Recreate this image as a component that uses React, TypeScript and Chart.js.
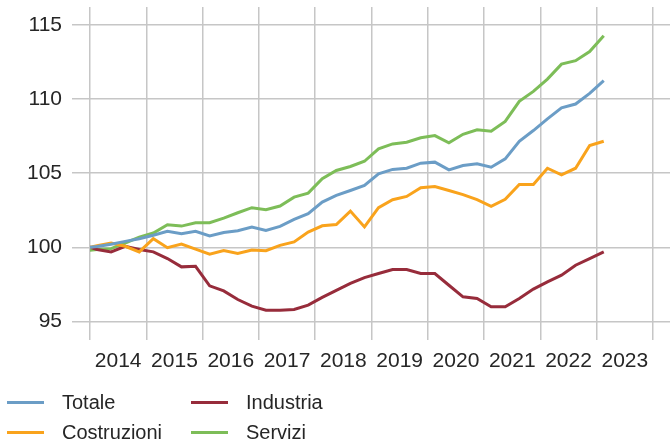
import React, { useEffect, useRef } from "react";
import { Chart, registerables } from "chart.js";

Chart.register(...registerables);

// Quarterly periods (index 2014 = 100)
const QUARTERS = [
  "2013Q4",
  "2014Q1", "2014Q2", "2014Q3", "2014Q4",
  "2015Q1", "2015Q2", "2015Q3", "2015Q4",
  "2016Q1", "2016Q2", "2016Q3", "2016Q4",
  "2017Q1", "2017Q2", "2017Q3", "2017Q4",
  "2018Q1", "2018Q2", "2018Q3", "2018Q4",
  "2019Q1", "2019Q2", "2019Q3", "2019Q4",
  "2020Q1", "2020Q2", "2020Q3", "2020Q4",
  "2021Q1", "2021Q2", "2021Q3", "2021Q4",
  "2022Q1", "2022Q2", "2022Q3", "2022Q4",
  "2023Q1",
];

const TOTALE = [
  99.95, 100.05, 100.2, 100.4, 100.58, 100.81, 101.08, 100.92, 101.08,
  100.76, 101.0, 101.12, 101.37, 101.14, 101.41, 101.88, 102.27, 103.05,
  103.5, 103.83, 104.17, 104.96, 105.25, 105.33, 105.67, 105.74, 105.22,
  105.51, 105.63, 105.4, 105.96, 107.15, 107.87, 108.66, 109.4, 109.66,
  110.38, 111.23,
];

const COSTRUZIONI = [
  99.9, 100.1, 100.29, 100.07, 99.69, 100.58, 99.97, 100.22, 99.88, 99.53,
  99.78, 99.58, 99.82, 99.77, 100.13, 100.36, 101.03, 101.45, 101.53, 102.44,
  101.37, 102.67, 103.21, 103.43, 104.01, 104.1, 103.83, 103.55, 103.21,
  102.76, 103.23, 104.24, 104.24, 105.33, 104.89, 105.33, 106.86, 107.15,
];

const INDUSTRIA = [
  100.15, 99.85, 99.69, 100.07, 99.85, 99.69, 99.24, 98.68, 98.72, 97.4,
  97.06, 96.48, 96.03, 95.76, 95.76, 95.81, 96.1, 96.62, 97.1, 97.56, 97.96,
  98.23, 98.5, 98.5, 98.23, 98.23, 97.44, 96.66, 96.55, 95.99, 95.99, 96.55,
  97.18, 97.67, 98.12, 98.79, 99.24, 99.69,
];

const SERVIZI = [
  99.75, 99.85, 99.91, 100.29, 100.69, 100.96, 101.52, 101.43, 101.66,
  101.66, 101.97, 102.33, 102.67, 102.53, 102.78, 103.38, 103.65, 104.62,
  105.18, 105.45, 105.8, 106.64, 106.97, 107.08, 107.38, 107.53, 107.04,
  107.62, 107.92, 107.82, 108.49, 109.84, 110.51, 111.34, 112.35, 112.58,
  113.2, 114.26,
];

const YEAR_TICKS = [2014, 2015, 2016, 2017, 2018, 2019, 2020, 2021, 2022, 2023, 2024];
const YEAR_LABELS = [2014, 2015, 2016, 2017, 2018, 2019, 2020, 2021, 2022, 2023];
const Y_TICKS = [95, 100, 105, 110, 115];

const SERIES = [
  { label: "Totale", data: TOTALE, color: "#6b9dc6" },
  { label: "Costruzioni", data: COSTRUZIONI, color: "#f9a31c" },
  { label: "Industria", data: INDUSTRIA, color: "#972c3b" },
  { label: "Servizi", data: SERVIZI, color: "#7dbd58" },
];

// mid-quarter position on a year axis
function quarterToX(q: string): number {
  const year = parseInt(q.slice(0, 4), 10);
  const n = parseInt(q.slice(5), 10);
  return year + (n - 0.5) / 4;
}

const GRID = "#c6c6c6";
const TEXT = "#262626";
const NARROW = "'Liberation Sans Narrow', 'Liberation Sans', sans-serif";
const X_MAX = 2014 + 580 / 56.3;

export default function App() {
  const ref = useRef<HTMLCanvasElement | null>(null);

  useEffect(() => {
    if (!ref.current) return;
    const chart = new Chart(ref.current, {
      type: "line",
      data: {
        datasets: SERIES.map((s) => ({
          label: s.label,
          data: QUARTERS.map((q, i) => ({ x: quarterToX(q), y: s.data[i] })),
          borderColor: s.color,
          backgroundColor: s.color,
          borderWidth: 3,
          pointRadius: 0,
          tension: 0,
          xAxisID: "x",
          yAxisID: "y",
        })),
      },
      options: {
        animation: false,
        responsive: false,
        maintainAspectRatio: false,
        layout: { padding: { top: 7, left: 0, right: 0, bottom: 0 } },
        plugins: { legend: { display: false }, tooltip: { enabled: false } },
        scales: {
          x: {
            type: "linear",
            position: "bottom",
            min: 2014,
            max: X_MAX,
            afterBuildTicks: (s: any) => {
              s.ticks = YEAR_TICKS.map((v) => ({ value: v }));
            },
            afterFit: (s: any) => {
              s.height = 0;
              s.paddingLeft = 0;
              s.paddingRight = 0;
            },
            ticks: { display: false },
            grid: { color: GRID, lineWidth: 1.5, drawTicks: false },
            border: { display: false },
          },
          x2: {
            type: "linear",
            position: "bottom",
            min: 2014,
            max: X_MAX,
            afterBuildTicks: (s: any) => {
              s.ticks = YEAR_LABELS.map((v) => ({ value: v + 0.5 }));
            },
            afterFit: (s: any) => {
              s.height = 101;
              s.paddingLeft = 0;
              s.paddingRight = 0;
            },
            ticks: {
              autoSkip: false,
              maxRotation: 0,
              padding: 1,
              color: TEXT,
              font: { family: NARROW, size: 21 },
              callback: (v: any) => String(Math.floor(Number(v))),
            },
            grid: { display: false },
            border: { display: false },
          },
          y: {
            type: "linear",
            min: 93.75,
            max: 116.2,
            afterBuildTicks: (s: any) => {
              s.ticks = Y_TICKS.map((v) => ({ value: v }));
            },
            afterFit: (s: any) => {
              s.width = 90;
              s.paddingTop = 0;
              s.paddingBottom = 0;
            },
            ticks: {
              padding: 10,
              color: TEXT,
              font: { family: "'Liberation Sans', sans-serif", size: 21 },
            },
            grid: { color: GRID, lineWidth: 1.5, tickLength: 18, drawTicks: true },
            border: { display: false },
          },
        },
      },
    });
    return () => chart.destroy();
  }, []);

  const legendItem = (s: { label: string; color: string }, left: number, top: number) => (
    <div
      key={s.label}
      style={{ position: "absolute", left, top, height: 24, width: 170 }}
    >
      <div
        style={{
          position: "absolute",
          left: 0,
          top: 10.5,
          width: 37,
          height: 3,
          background: s.color,
        }}
      />
      <div
        style={{
          position: "absolute",
          left: 55,
          top: 0,
          lineHeight: "24px",
          fontFamily: NARROW,
          fontSize: 20,
          color: TEXT,
          whiteSpace: "nowrap",
        }}
      >
        {s.label}
      </div>
    </div>
  );

  return (
    <div
      style={{
        position: "absolute",
        left: 0,
        top: 0,
        width: 670,
        height: 441,
        background: "#fff",
        overflow: "hidden",
      }}
    >
      <canvas ref={ref} width={670} height={441} style={{ position: "absolute", left: 0, top: 0 }} />
      {legendItem(SERIES[0], 7, 390)}
      {legendItem(SERIES[2], 191, 390)}
      {legendItem(SERIES[1], 7, 420)}
      {legendItem(SERIES[3], 191, 420)}
    </div>
  );
}
